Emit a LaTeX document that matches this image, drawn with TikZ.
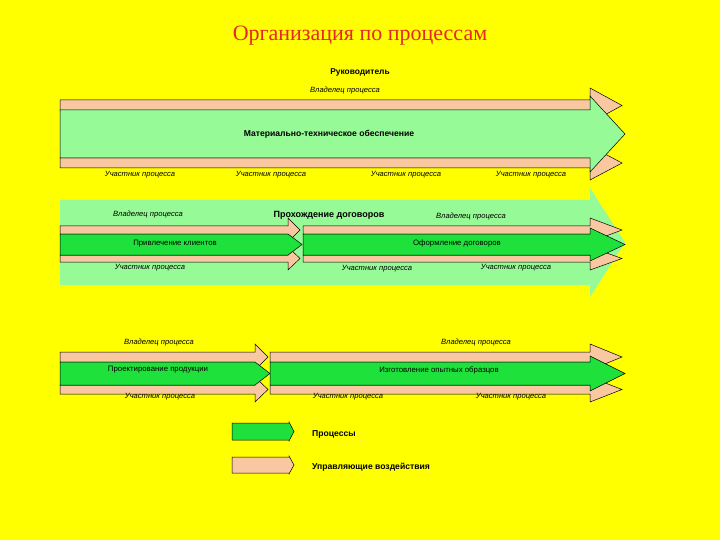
\documentclass[tikz,border=0pt]{standalone}
\usepackage{fontspec}
\setmainfont{Liberation Serif}
\newfontfamily\ar{Liberation Sans}
\definecolor{bgy}{RGB}{255,255,0}
\definecolor{peach}{RGB}{250,200,160}
\definecolor{proc}{RGB}{30,225,60}
\definecolor{pale}{RGB}{150,250,150}
\definecolor{titler}{RGB}{230,40,40}
\newcommand\harr[7][]{\draw[#1] (#2,#5) -- (#3,#5) -- (#3,#5-#7) -- (#4,{(#5+#6)/2}) -- (#3,#6+#7) -- (#3,#6) -- (#2,#6) -- cycle;}
\tikzset{
 pch/.style={fill=peach,draw=black,line width=0.5pt},
 prc/.style={fill=proc,draw=black,line width=0.5pt},
 lbl/.style={font=\ar\itshape\fontsize{7.6}{9}\selectfont,inner sep=1pt},
 ptxt/.style={font=\ar\fontsize{7.8}{9}\selectfont,inner sep=1pt},
 btxt/.style={font=\ar\bfseries\fontsize{8.6}{10}\selectfont,inner sep=1pt,anchor=west}
}
\begin{document}
\begin{tikzpicture}[x=1pt,y=-1pt]
\fill[bgy] (0,0) rectangle (720,540);
\useasboundingbox (0,0) rectangle (720,540);
\node[font=\fontsize{22}{26}\selectfont,text=titler] (title) at (360,36) {Организация по процессам};
\node[font=\ar\bfseries\fontsize{8.4}{10}\selectfont] (boss) at (360,72) {Руководитель};
% group 1
\harr[pch]{60}{590}{622}{100}{111}{12}
\harr[pch]{60}{590}{622}{158}{168}{12}
\harr[fill=pale,draw=black,line width=0.5pt]{60}{590}{625}{110}{158}{14}
\node[lbl] (o1) at (345,91) {Владелец процесса};
\node[font=\ar\bfseries\fontsize{8.6}{10}\selectfont] (m1) at (329,134) {Материально-техническое обеспечение};
\node[lbl] (u1) at (140,175) {Участник процесса};
\node[lbl] (u2) at (271,175) {Участник процесса};
\node[lbl] (u3) at (406,175) {Участник процесса};
\node[lbl] (u4) at (531,175) {Участник процесса};
% group 2
\harr[fill=pale,draw=none]{60}{590}{625}{200}{285}{12}
\harr[pch]{60}{288}{300}{226}{234}{8}
\harr[pch]{60}{288}{300}{255}{262}{8}
\harr[prc]{60}{288}{302}{234}{255}{0}
\harr[pch]{303}{590}{622}{226}{234}{8}
\harr[pch]{303}{590}{622}{255}{262}{8}
\harr[prc]{303}{590}{625}{234}{255}{6}
\node[lbl] (o2) at (148,215) {Владелец процесса};
\node[font=\ar\bfseries\fontsize{9}{10}\selectfont] (pd) at (329,215) {Прохождение договоров};
\node[lbl] (o3) at (471,217) {Владелец процесса};
\node[ptxt] (pk) at (175,244) {Привлечение клиентов};
\node[ptxt] (od) at (457,243) {Оформление договоров};
\node[lbl] (u5) at (150,268) {Участник процесса};
\node[lbl] (u6) at (377,269) {Участник процесса};
\node[lbl] (u7) at (516,268) {Участник процесса};
% group 3
\harr[pch]{60}{255}{268}{352}{362}{8}
\harr[pch]{60}{255}{268}{385}{394}{8}
\harr[prc]{60}{255}{270}{362}{385}{0}
\harr[pch]{270}{590}{622}{352}{362}{8}
\harr[pch]{270}{590}{622}{385}{394}{8}
\harr[prc]{270}{590}{625}{362}{385}{6}
\node[lbl] (o4) at (159,343) {Владелец процесса};
\node[lbl] (o5) at (476,343) {Владелец процесса};
\node[ptxt] (pp) at (158,370) {Проектирование продукции};
\node[ptxt] (io) at (439,370) {Изготовление опытных образцов};
\node[lbl] (u8) at (160,397) {Участник процесса};
\node[lbl] (u9) at (348,397) {Участник процесса};
\node[lbl] (u10) at (511,397) {Участник процесса};
% legend
\harr[prc]{232}{289}{294}{423}{440}{1}
\harr[pch]{232}{289}{294}{457}{473}{1}
\node[btxt] (lp) at (311,434) {Процессы};
\node[btxt] (lu) at (311,467) {Управляющие воздействия};
\end{tikzpicture}
\end{document}
